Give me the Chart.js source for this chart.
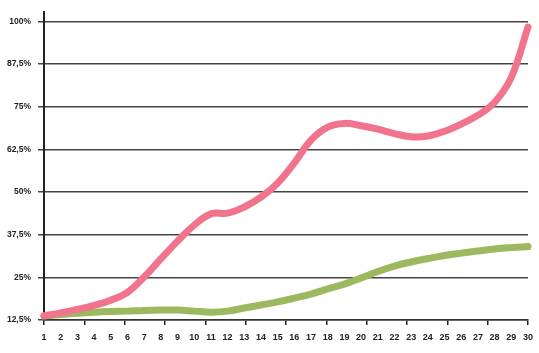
<!DOCTYPE html>
<html>
<head>
<meta charset="utf-8">
<script src="https://cdn.jsdelivr.net/npm/chart.js@4/dist/chart.umd.min.js"></script>
<style>
  body { margin: 0; background: #fff; }
  canvas { display: block; }
</style>
</head>
<body>
<canvas id="chart" width="539" height="353"></canvas>
<script>
// days along the x axis
const days = [1, 2, 3, 4, 5, 6, 7, 8, 9, 10, 11, 12, 13, 14, 15, 16, 17, 18, 19, 20, 21, 22, 23, 24, 25, 26, 27, 28, 29, 30];

// pink series (percent)
const pinkValues = [13.7, 14.6, 15.6, 16.8, 18.3, 20.6, 25.1, 30.4, 35.6, 40.3, 43.6, 43.8, 45.6, 48.5, 52.6, 58.5, 65.2, 69.0, 70.1, 69.4, 68.4, 67.1, 66.2, 66.4, 67.8, 69.9, 72.5, 76.3, 83.6, 98.3];

// green series (percent)
const greenValues = [13.7, 14.1, 14.5, 14.8, 15.0, 15.1, 15.3, 15.4, 15.4, 15.1, 14.8, 15.1, 16.0, 16.9, 17.8, 18.9, 20.1, 21.6, 23.0, 24.8, 26.7, 28.3, 29.5, 30.5, 31.4, 32.1, 32.7, 33.3, 33.7, 34.0];

// y tick values
const yTicks = [12.5, 25, 37.5, 50, 62.5, 75, 87.5, 100];

// positions of the small tick marks under the x axis (13 evenly spaced marks from day 1 to day 30)
const xMarks = [1, 3.4167, 5.8333, 8.25, 10.6667, 13.0833, 15.5, 17.9167, 20.3333, 22.75, 25.1667, 27.5833, 30];

const toPoints = vals => vals.map((v, i) => ({ x: days[i], y: v }));

const labelFont = { family: 'Liberation Sans, Arial, sans-serif', weight: 'bold' };

new Chart(document.getElementById('chart').getContext('2d'), {
  type: 'line',
  data: {
    datasets: [
      {
        label: 'pink',
        data: toPoints(pinkValues),
        borderColor: '#f2738c',
        borderWidth: 7,
        borderCapStyle: 'round',
        borderJoinStyle: 'round',
        tension: 0.4,
        pointRadius: 0,
        fill: false,
        clip: false
      },
      {
        label: 'green',
        data: toPoints(greenValues),
        borderColor: '#9cb95f',
        borderWidth: 7,
        borderCapStyle: 'round',
        borderJoinStyle: 'round',
        tension: 0.4,
        pointRadius: 0,
        fill: false,
        clip: false
      }
    ]
  },
  options: {
    responsive: false,
    animation: false,
    layout: { padding: { left: 0, right: 7, top: 12, bottom: 0 } },
    plugins: {
      legend: { display: false },
      tooltip: { enabled: false }
    },
    scales: {
      // small tick marks under the axis line
      x2: {
        type: 'linear',
        position: 'bottom',
        weight: 0,
        min: 1,
        max: 30,
        afterBuildTicks: s => { s.ticks = xMarks.map(v => ({ value: v })); },
        ticks: { display: false },
        grid: { display: true, drawOnChartArea: false, drawTicks: true, tickLength: 5, color: '#222', lineWidth: 1.5 },
        border: { display: true, color: '#333', width: 1.5 },
        afterFit: s => { s.height = 6; }
      },
      // day labels
      x: {
        type: 'linear',
        position: 'bottom',
        weight: 1,
        min: 1,
        max: 30,
        ticks: {
          stepSize: 1,
          autoSkip: false,
          maxRotation: 0,
          padding: 6,
          color: '#222',
          font: { ...labelFont, size: 9 },
          callback: v => String(v)
        },
        grid: { display: false, drawTicks: false },
        border: { display: false },
        afterFit: s => { s.height = 27; }
      },
      y: {
        type: 'linear',
        min: 12.5,
        max: 102.7,
        afterBuildTicks: s => { s.ticks = yTicks.map(v => ({ value: v })); },
        ticks: {
          padding: 7,
          color: '#222',
          font: { ...labelFont, size: 8.5 },
          callback: v => String(v).replace('.', ',') + '%'
        },
        grid: { color: '#444', lineWidth: 1.5, tickLength: 6 },
        border: { display: true, color: '#222', width: 2 },
        afterFit: s => { s.width = 44; }
      }
    }
  }
});
</script>
</body>
</html>
